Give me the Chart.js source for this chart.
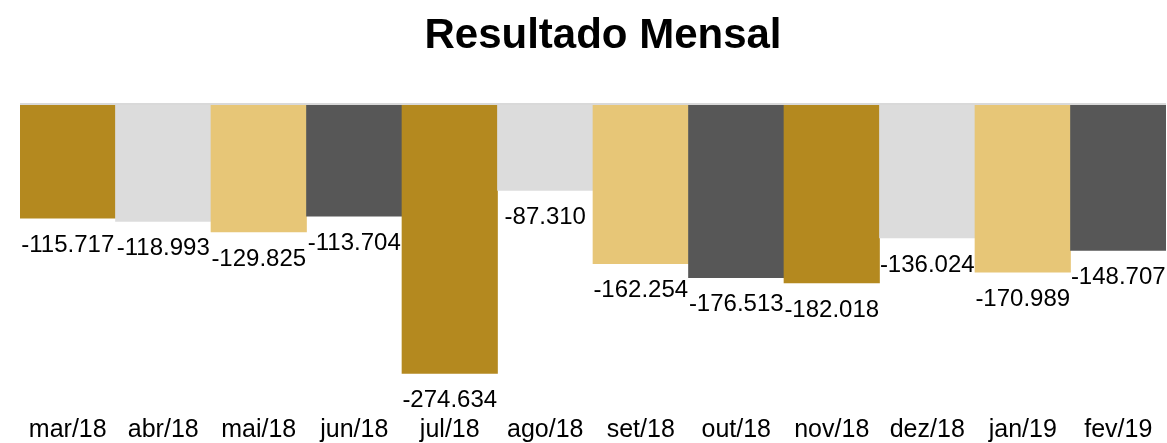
<!DOCTYPE html>
<html>
	<head>
		<title>Resultado Mensal</title>
		<script src="https://cdn.jsdelivr.net/npm/chart.js@4.4.0/dist/chart.umd.min.js"></script>
		<style>
			body { margin: 0; background: #fff; }
			#box { width: 1167px; height: 443px; }
		</style>
	</head>
	<body>
		<div id="box"><canvas id="myChart"></canvas></div>
		<script>
			// dados do gráfico
			const months = ["mar/18", "abr/18", "mai/18", "jun/18", "jul/18", "ago/18", "set/18", "out/18", "nov/18", "dez/18", "jan/19", "fev/19"];
			const results = [-115.717, -118.993, -129.825, -113.704, -274.634, -87.310, -162.254, -176.513, -182.018, -136.024, -170.989, -148.707];
			const palette = ["#B4891F", "#DCDCDC", "#E7C677", "#575757"];
			const chartTitle = "Resultado Mensal";

			Chart.defaults.font.family = "'Liberation Sans', Arial, sans-serif";
			Chart.defaults.color = "#000";

			// título, linha do zero e rótulos de valor
			const extras = {
				id: 'extras',
				afterDatasetsDraw(chart) {
					const ctx = chart.ctx;
					const area = chart.chartArea;
					const y0 = chart.scales.y.getPixelForValue(0);
					ctx.save();
					ctx.fillStyle = "#000";
					ctx.font = "bold 42px 'Liberation Sans', Arial, sans-serif";
					ctx.textAlign = "center";
					ctx.textBaseline = "alphabetic";
					ctx.fillText(chartTitle, 603, 48);

					ctx.strokeStyle = "#D9D9D9";
					ctx.lineWidth = 2;
					ctx.beginPath();
					ctx.moveTo(area.left, y0 - 1);
					ctx.lineTo(area.right, y0 - 1);
					ctx.stroke();

					ctx.font = "24px 'Liberation Sans', Arial, sans-serif";
					ctx.textBaseline = "middle";
					chart.getDatasetMeta(0).data.forEach(function (bar, i) {
						ctx.fillText(results[i].toFixed(3), bar.x, bar.y + 27);
					});
					ctx.restore();
				}
			};

			var chart = new Chart(document.getElementById('myChart').getContext('2d'), {
				type: 'bar',
				data: {
					labels: months,
					datasets: [{
						data: results,
						backgroundColor: months.map((m, i) => palette[i % palette.length]),
						borderWidth: 0,
						barPercentage: 1,
						categoryPercentage: 1
					}]
				},
				options: {
					responsive: true,
					maintainAspectRatio: false,
					animation: false,
					layout: { padding: { left: 20, right: 1, top: 105, bottom: 0 } },
					plugins: {
						legend: { display: false },
						tooltip: { enabled: false },
						title: { display: false }
					},
					scales: {
						x: {
							grid: { display: false },
							border: { display: false },
							ticks: { font: { size: 25, lineHeight: 1 }, padding: 0, color: '#000', maxRotation: 0, autoSkip: false }
						},
						y: {
							display: false,
							min: -312,
							max: 0
						}
					}
				},
				plugins: [extras]
			});
		</script>
	</body>
</html>
